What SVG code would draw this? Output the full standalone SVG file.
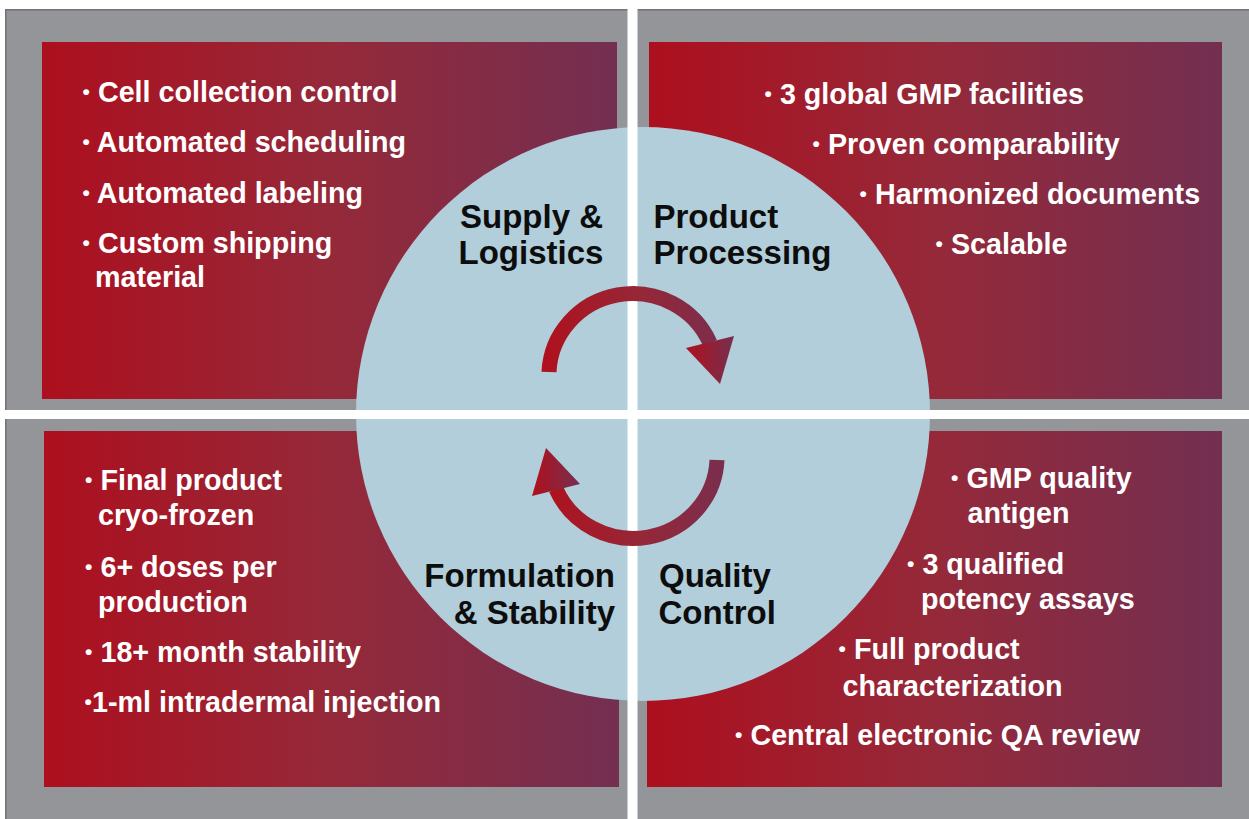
<svg xmlns="http://www.w3.org/2000/svg" width="1249" height="819" viewBox="0 0 1249 819">
<defs>
<linearGradient id="boxGrad" x1="0" y1="0" x2="1" y2="0">
<stop offset="0" stop-color="#ad0f1e"/>
<stop offset="0.5" stop-color="#952939"/>
<stop offset="1" stop-color="#732f51"/>
</linearGradient>
<linearGradient id="arcGrad" gradientUnits="userSpaceOnUse" x1="540" y1="0" x2="736" y2="0">
<stop offset="0" stop-color="#b0101c"/>
<stop offset="0.5" stop-color="#962737"/>
<stop offset="1" stop-color="#762f50"/>
</linearGradient>
<linearGradient id="headGrad" x1="0" y1="0" x2="1" y2="0">
<stop offset="0" stop-color="#b0101c"/>
<stop offset="1" stop-color="#762f50"/>
</linearGradient>
<style>
.box{fill:url(#boxGrad);}
.item{font-family:"Liberation Sans",Arial,Helvetica,sans-serif;font-weight:bold;font-size:28.7px;fill:#ffffff;}
.b{font-size:21px;}
.label{font-family:"Liberation Sans",Arial,Helvetica,sans-serif;font-weight:bold;font-size:33px;fill:#0d0d0d;}
.arc{fill:none;stroke:url(#arcGrad);stroke-width:15;}
.head{fill:url(#headGrad);}
</style>
</defs>

<g id="background">
<rect x="5" y="9" width="1244" height="810" fill="#939598"/>
<rect x="5" y="9" width="1244" height="1.5" fill="#727376"/>
<rect x="5" y="9" width="1.5" height="810" fill="#727376"/>
</g>

<g id="boxes">
<rect class="box" x="42" y="42" width="575" height="357"/>
<rect class="box" x="649" y="42" width="573" height="357"/>
<rect class="box" x="44" y="431" width="575" height="356"/>
<rect class="box" x="647" y="431" width="575" height="356"/>
</g>

<circle id="hub" cx="643" cy="414" r="287" fill="#b1ceda"/>

<g id="divider" fill="#ffffff">
<rect x="627.5" y="0" width="10" height="819"/>
<rect x="0" y="410" width="1249" height="9"/>
</g>

<g id="connectors">
<path class="arc" d="M 549 372 A 84 82 0 0 1 710 343"/>
<polygon class="head" points="686,348 734,336 720,384"/>
<path class="arc" d="M 717 460 A 84 82 0 0 1 556 489"/>
<polygon class="head" points="580,484 532,496 546,448"/>
</g>

<g id="supply-logistics">
<text class="item" x="82.6" y="102"><tspan class="b" dy="-3">•</tspan><tspan dy="3"> Cell collection control</tspan></text>
<text class="item" x="82.6" y="152"><tspan class="b" dy="-3">•</tspan><tspan dy="3"> Automated scheduling</tspan></text>
<text class="item" x="82.6" y="203"><tspan class="b" dy="-3">•</tspan><tspan dy="3"> Automated labeling</tspan></text>
<text class="item" x="82.6" y="253"><tspan class="b" dy="-3">•</tspan><tspan dy="3"> Custom shipping</tspan><tspan x="95" y="287">material</tspan></text>
<text class="label" x="460" y="228">Supply &amp;<tspan x="458.5" y="264">Logistics</tspan></text>
</g>

<g id="product-processing">
<text class="item" x="764.6" y="103.5"><tspan class="b" dy="-3">•</tspan><tspan dy="3"> 3 global GMP facilities</tspan></text>
<text class="item" x="812.6" y="154"><tspan class="b" dy="-3">•</tspan><tspan dy="3"> Proven comparability</tspan></text>
<text class="item" x="859.6" y="204"><tspan class="b" dy="-3">•</tspan><tspan dy="3"> Harmonized documents</tspan></text>
<text class="item" x="935.6" y="254"><tspan class="b" dy="-3">•</tspan><tspan dy="3"> Scalable</tspan></text>
<text class="label" x="653.5" y="228">Product<tspan x="653.5" y="264">Processing</tspan></text>
</g>

<g id="formulation-stability">
<text class="item" x="85.1" y="490"><tspan class="b" dy="-3">•</tspan><tspan dy="3"> Final product</tspan><tspan x="98" y="525">cryo-frozen</tspan></text>
<text class="item" x="85.1" y="576.5"><tspan class="b" dy="-3">•</tspan><tspan dy="3"> 6+ doses per</tspan><tspan x="98" y="611.5">production</tspan></text>
<text class="item" x="85.1" y="662"><tspan class="b" dy="-3">•</tspan><tspan dy="3"> 18+ month stability</tspan></text>
<text class="item" x="84.6" y="711.5"><tspan class="b" dy="-3">•</tspan><tspan dy="3">1-ml intradermal injection</tspan></text>
<text class="label" text-anchor="end" x="615" y="587">Formulation<tspan x="615" y="624">&amp; Stability</tspan></text>
</g>

<g id="quality-control">
<text class="item" x="951.1" y="488"><tspan class="b" dy="-3">•</tspan><tspan dy="3"> GMP quality</tspan><tspan x="967.5" y="523">antigen</tspan></text>
<text class="item" x="907.1" y="574"><tspan class="b" dy="-3">•</tspan><tspan dy="3"> 3 qualified</tspan><tspan x="921" y="609">potency assays</tspan></text>
<text class="item" x="838.6" y="659"><tspan class="b" dy="-3">•</tspan><tspan dy="3"> Full product</tspan><tspan x="842.5" y="695.5">characterization</tspan></text>
<text class="item" x="735.1" y="745"><tspan class="b" dy="-3">•</tspan><tspan dy="3"> Central electronic QA review</tspan></text>
<text class="label" x="659" y="587">Quality<tspan x="658.5" y="624">Control</tspan></text>
</g>
</svg>
